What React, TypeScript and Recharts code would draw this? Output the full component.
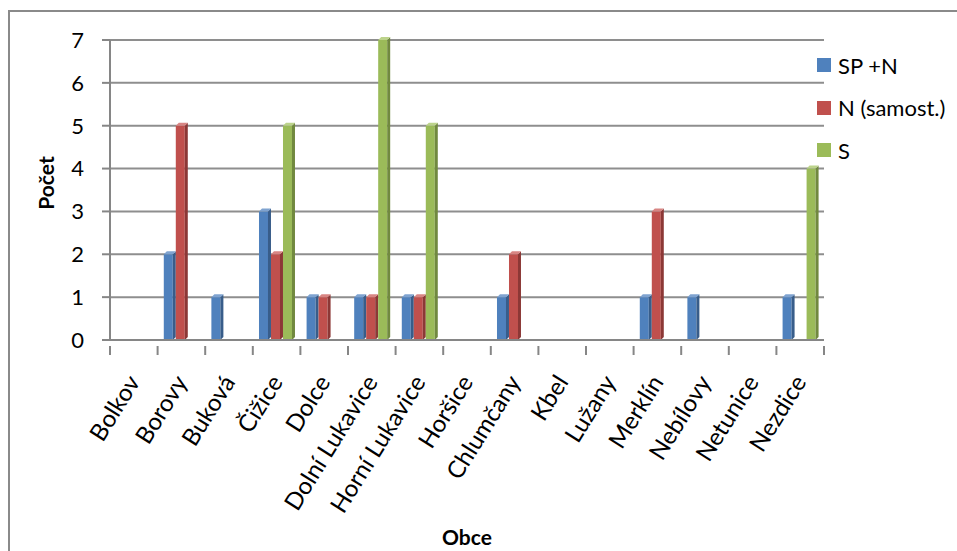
import React from "react";
import { BarChart, Bar, XAxis, YAxis, CartesianGrid } from "recharts";

const obce = [
  "Bolkov",
  "Borovy",
  "Buková",
  "Čižice",
  "Dolce",
  "Dolní Lukavice",
  "Horní Lukavice",
  "Horšice",
  "Chlumčany",
  "Kbel",
  "Lužany",
  "Merklín",
  "Nebílovy",
  "Netunice",
  "Nezdice",
];
const spN = [0, 2, 1, 3, 1, 1, 1, 0, 1, 0, 0, 1, 1, 0, 1];
const nSamost = [0, 5, 0, 2, 1, 1, 1, 0, 2, 0, 0, 3, 0, 0, 0];
const sVals = [0, 0, 0, 5, 0, 7, 5, 0, 0, 0, 0, 0, 0, 0, 4];
const yTicks = [0, 1, 2, 3, 4, 5, 6, 7];

const series = [
  { key: "spN", name: "SP +N", color: "#4F81BD", side: "#385D8A", top: "#7FA3D0" },
  { key: "n", name: "N (samost.)", color: "#C0504D", side: "#8C3836", top: "#D88583" },
  { key: "s", name: "S", color: "#9BBB59", side: "#71893F", top: "#BCD38B" },
];

const data = obce.map((name, i) => ({
  name,
  spN: spN[i],
  n: nSamost[i],
  s: sVals[i],
}));

const W = 957;
const H = 551;
const M = { top: 40, right: 133, bottom: 0, left: 22 };
const Y_W = 88;
const PLOT_BOTTOM = 340;
const FONT = "Lato, 'Open Sans', sans-serif";
const band = (W - M.left - Y_W - M.right) / obce.length;

// bar with a thin side and top face, like the old 3D column look
const Bar3D = (props: any) => {
  const { x, y, width, height, fill, side, top } = props;
  if (!height || height <= 0) return null;
  const d = 3;
  const fw = width - d;
  return (
    <g>
      <rect x={x} y={y} width={fw} height={height} fill={fill} />
      <polygon
        points={`${x + fw},${y} ${x + fw + d},${y - d} ${x + fw + d},${y + height - d} ${x + fw},${y + height}`}
        fill={side}
      />
      <polygon
        points={`${x},${y} ${x + d},${y - d} ${x + fw + d},${y - d} ${x + fw},${y}`}
        fill={top}
      />
    </g>
  );
};

const CatTick = ({ x, y, payload, index }: any) => {
  const left = x - band / 2;
  const ax = x + 7;
  const ay = y + 34;
  return (
    <g>
      <line x1={left} y1={y - 2} x2={left} y2={y + 7} stroke="#868686" strokeWidth={2} />
      {index === obce.length - 1 && (
        <line x1={x + band / 2} y1={y - 2} x2={x + band / 2} y2={y + 7} stroke="#868686" strokeWidth={2} />
      )}
      <text
        x={ax}
        y={ay}
        textAnchor="end"
        transform={`rotate(-58, ${ax}, ${ay})`}
        fontSize={24}
        fill="#000"
        fontFamily={FONT}
      >
        {payload.value}
      </text>
    </g>
  );
};

export default function App() {
  return (
    <div
      style={{
        position: "absolute",
        left: 0,
        top: 0,
        width: W,
        height: H,
        overflow: "hidden",
        background: "#fff",
        fontFamily: FONT,
      }}
    >
      <div
        style={{
          position: "absolute",
          left: 8,
          top: 10,
          width: 1100,
          height: 700,
          border: "2px solid #8a8a8a",
        }}
      />
      <BarChart
        width={W}
        height={H}
        data={data}
        margin={M}
        barGap={0}
        barCategoryGap="13%"
        style={{ position: "absolute", left: 0, top: 0 }}
      >
        <CartesianGrid vertical={false} stroke="#8e8e8e" strokeWidth={2} />
        <XAxis
          dataKey="name"
          interval={0}
          height={H - PLOT_BOTTOM - M.bottom}
          tick={<CatTick />}
          tickLine={false}
          axisLine={{ stroke: "#868686", strokeWidth: 2 }}
          label={{
            value: "Obce",
            position: "insideBottom",
            offset: 6,
            style: { fontSize: 21, fontWeight: 700, fill: "#000", fontFamily: FONT },
          }}
        />
        <YAxis
          width={Y_W}
          domain={[0, 7]}
          ticks={yTicks}
          interval={0}
          tick={{ fontSize: 22, fill: "#000", fontFamily: FONT, dx: -16 }}
          tickLine={{ stroke: "#868686", strokeWidth: 2 }}
          tickSize={8}
          axisLine={{ stroke: "#868686", strokeWidth: 2 }}
          label={{
            value: "Počet",
            angle: -90,
            position: "insideLeft",
            offset: 25,
            dy: -7,
            style: { fontSize: 21, fontWeight: 700, fill: "#000", fontFamily: FONT, textAnchor: "middle" },
          }}
        />
        {series.map((s) => (
          <Bar
            key={s.key}
            dataKey={s.key}
            name={s.name}
            fill={s.color}
            isAnimationActive={false}
            shape={(p: any) => <Bar3D {...p} fill={s.color} side={s.side} top={s.top} />}
          />
        ))}
      </BarChart>
      <div style={{ position: "absolute", left: 817, top: 65 }}>
        {series.map((s, i) => (
          <div
            key={s.key}
            style={{
              position: "absolute",
              top: i * 42.5 - 14,
              left: 0,
              height: 28,
              display: "flex",
              alignItems: "center",
              whiteSpace: "nowrap",
            }}
          >
            <span style={{ width: 14, height: 14, background: s.color, display: "inline-block" }} />
            <span style={{ marginLeft: 7, fontSize: 22, color: "#000" }}>{s.name}</span>
          </div>
        ))}
      </div>
    </div>
  );
}
